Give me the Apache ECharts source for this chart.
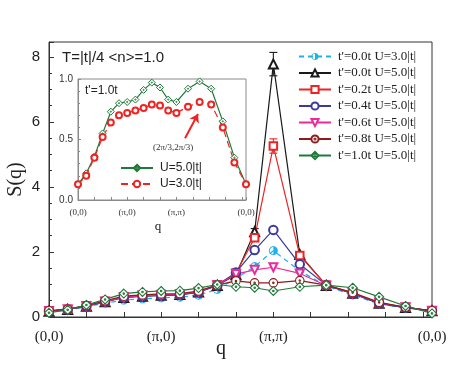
<!DOCTYPE html>
<html>
<head>
<meta charset="utf-8">
<script src="https://cdn.jsdelivr.net/npm/echarts@6/dist/echarts.min.js"></script>
<style>
  html, body { margin: 0; padding: 0; background: #fff; }
  #chart { width: 460px; height: 377px; }
</style>
</head>
<body>
<div id="chart"></div>
<script>
// q path (0,0)->(pi,0)->(pi,pi)->(0,0), 6 steps per leg
const qIndex = [0, 1, 2, 3, 4, 5, 6, 7, 8, 9, 10, 11, 12, 13, 14, 15, 16, 17, 18]
const qTickIndex = [0, 6, 12, 18]
const qTickLabels = ['(0,0)', '(π,0)', '(π,π)', '(0,0)']

// main panel S(q)
const sTp00U3 = [0.16, 0.21, 0.31, 0.43, 0.52, 0.56, 0.59, 0.61, 0.67, 0.85, 1.19, 1.55, 2.04, 1.42, 0.95, 0.68, 0.40, 0.28, 0.18]
const sTp00U5 = [0.18, 0.23, 0.33, 0.47, 0.60, 0.64, 0.67, 0.69, 0.77, 0.97, 1.30, 2.62, 7.78, 1.92, 0.97, 0.73, 0.42, 0.29, 0.19]
const sTp02U5 = [0.19, 0.24, 0.34, 0.48, 0.62, 0.66, 0.69, 0.70, 0.78, 0.99, 1.35, 2.44, 5.26, 1.89, 0.98, 0.74, 0.43, 0.30, 0.19]
const sTp04U5 = [0.18, 0.23, 0.33, 0.47, 0.60, 0.64, 0.66, 0.68, 0.76, 0.97, 1.37, 2.06, 2.68, 1.62, 0.98, 0.72, 0.42, 0.29, 0.19]
const sTp06U5 = [0.18, 0.23, 0.34, 0.48, 0.61, 0.66, 0.68, 0.70, 0.78, 0.98, 1.32, 1.45, 1.53, 1.34, 0.97, 0.74, 0.44, 0.30, 0.19]
const sTp08U5 = [0.19, 0.24, 0.35, 0.50, 0.64, 0.68, 0.71, 0.72, 0.80, 0.98, 1.11, 1.05, 1.05, 1.12, 0.98, 0.75, 0.45, 0.30, 0.19]
const sTp10U5 = [0.13, 0.22, 0.37, 0.54, 0.72, 0.77, 0.80, 0.81, 0.89, 1.00, 0.93, 0.90, 0.80, 0.93, 0.98, 0.90, 0.62, 0.34, 0.11]

// error bars [q index, low, high]
const errTp00U5 = [[11, 2.52, 2.72], [12, 7.42, 8.14]]
const errTp02U5 = [[12, 5.04, 5.48]]

// inset, t'=1.0t
const insetU5 = [0.13, 0.22, 0.36, 0.55, 0.73, 0.80, 0.81, 0.83, 0.91, 0.97, 0.93, 0.83, 0.81, 0.92, 0.98, 0.92, 0.65, 0.35, 0.13]
const insetU3 = [0.13, 0.20, 0.35, 0.52, 0.64, 0.70, 0.72, 0.74, 0.76, 0.79, 0.78, 0.74, 0.72, 0.77, 0.81, 0.79, 0.60, 0.31, 0.13]

// diagonal leg is sqrt(2) longer
const pathPos = (i) => (i <= 12 ? i : 12 + (i - 12) * Math.SQRT2)
const qMax = pathPos(18)
const toXY = (arr) => arr.map((v, i) => [pathPos(qIndex[i]), v])

const qLabel = (v) => {
  for (let j = 0; j < qTickIndex.length; j++) {
    if (Math.abs(pathPos(qTickIndex[j]) - v) < 1e-3) return qTickLabels[j]
  }
  return ''
}

const SERIF = '"Liberation Serif", "DejaVu Serif", serif'
const SANS = '"Liberation Sans", Arial, sans-serif'

const C_CYAN = '#1db2ea'
const C_BLACK = '#1a1a1a'
const C_RED = '#ee2424'
const C_BLUE = '#3a3a9c'
const C_PINK = '#ec2a9a'
const C_DRED = '#8e1c1c'
const C_GREEN = '#1f7a3a'

// half filled circle marker, polygon based so the winding is explicit
function arcPts(r, a0, a1, n) {
  const pts = []
  for (let k = 0; k <= n; k++) {
    const a = a0 + (a1 - a0) * k / n
    pts.push((10 + r * Math.cos(a)).toFixed(2) + ',' + (10 + r * Math.sin(a)).toFixed(2))
  }
  return pts
}
function halfCirclePath() {
  const outer = arcPts(10, 0, 2 * Math.PI, 24)
  const inner = arcPts(8, 2 * Math.PI, 0, 24)
  const half = arcPts(8, -Math.PI / 2, Math.PI / 2, 12)
  return 'path://M' + outer.join(' L') + ' Z M' + inner.join(' L') + ' Z M' + half.join(' L') + ' Z'
}
const SYM_HALF = halfCirclePath()
const SYM_CDOT = 'path://M0,10 A10,10 0 1,1 20,10 A10,10 0 1,1 0,10 Z M10,8.3 A1.7,1.7 0 1,1 10,11.7 A1.7,1.7 0 1,1 10,8.3 Z'
const SYM_DDOT = 'path://M10,0 L20,10 L10,20 L0,10 Z M10,8.3 A1.7,1.7 0 1,1 10,11.7 A1.7,1.7 0 1,1 10,8.3 Z'

function mainLine(name, data, color, symbol, opts) {
  opts = opts || {}
  return {
    name: name,
    type: 'line',
    xAxisIndex: 0,
    yAxisIndex: 0,
    data: toXY(data),
    symbol: symbol,
    symbolSize: opts.size || 8,
    symbolRotate: opts.rotate || 0,
    color: color,
    lineStyle: { color: color, width: 1.2, type: opts.dash || 'solid' },
    itemStyle: opts.fill
      ? { color: opts.fill, borderColor: opts.border || color, borderWidth: opts.bw === undefined ? 1.1 : opts.bw }
      : { color: color, borderColor: color, borderWidth: 1.1 },
    emphasis: { disabled: true },
  }
}

function renderErr(params, api) {
  const x = api.value(0)
  const p1 = api.coord([x, api.value(1)])
  const p2 = api.coord([x, api.value(2)])
  const w = 4
  const style = { stroke: api.visual('color'), lineWidth: 1.1 }
  return {
    type: 'group',
    children: [
      { type: 'line', shape: { x1: p1[0], y1: p1[1], x2: p2[0], y2: p2[1] }, style: style },
      { type: 'line', shape: { x1: p1[0] - w, y1: p1[1], x2: p1[0] + w, y2: p1[1] }, style: style },
      { type: 'line', shape: { x1: p2[0] - w, y1: p2[1], x2: p2[0] + w, y2: p2[1] }, style: style },
    ],
  }
}

function errSeries(data, color) {
  return {
    type: 'custom',
    xAxisIndex: 0,
    yAxisIndex: 0,
    color: color,
    renderItem: renderErr,
    encode: { x: 0, y: [1, 2] },
    data: data.map((d) => [pathPos(d[0]), d[1], d[2]]),
    z: 3,
    silent: true,
  }
}

const names = [
  "t'=0.0t U=3.0|t|",
  "t'=0.0t U=5.0|t|",
  "t'=0.2t U=5.0|t|",
  "t'=0.4t U=5.0|t|",
  "t'=0.6t U=5.0|t|",
  "t'=0.8t U=5.0|t|",
  "t'=1.0t U=5.0|t|",
]

const axisGray = { color: '#333', width: 1 }
const insetGray = { color: '#8a8a8a', width: 1 }

const chart = echarts.init(document.getElementById('chart'), null, { renderer: 'canvas' })

chart.setOption({
  animation: false,
  backgroundColor: '#fff',
  grid: [
    { left: 49, top: 42, width: 383, height: 275, show: true, borderColor: '#333', borderWidth: 1,
      containLabel: false, outerBoundsMode: 'none' },
    { left: 78, top: 79, width: 168, height: 121, show: true, borderColor: '#8a8a8a', borderWidth: 1,
      backgroundColor: '#fff', containLabel: false, outerBoundsMode: 'none' },
  ],
  legend: [
    {
      data: names,
      orient: 'vertical',
      left: 298,
      top: 50,
      padding: 0,
      itemWidth: 32,
      itemHeight: 9,
      itemGap: 3.5,
      selectedMode: false,
      textStyle: { fontFamily: SERIF, fontSize: 13, color: '#222', lineHeight: 13, padding: [0, 0, 0, 2] },
    },
    {
      data: ['U=5.0|t|', 'U=3.0|t|'],
      orient: 'vertical',
      left: 120,
      top: 161,
      padding: 0,
      itemWidth: 32,
      itemHeight: 8,
      itemGap: 2,
      selectedMode: false,
      textStyle: { fontFamily: SANS, fontSize: 12, color: '#222', lineHeight: 14, padding: [0, 0, 0, 2] },
    },
  ],
  xAxis: [
    {
      gridIndex: 0,
      type: 'value',
      min: 0,
      max: qMax,
      interval: 2,
      axisLine: { lineStyle: axisGray },
      axisTick: { inside: true, length: 5, lineStyle: axisGray },
      axisLabel: { formatter: qLabel, fontFamily: SERIF, fontSize: 15, color: '#222', margin: 13,
        showMaxLabel: true, showMinLabel: true, hideOverlap: false },
      splitLine: { show: false },
      name: 'q',
      nameLocation: 'middle',
      nameGap: 22,
      nameMoveOverlap: false,
      nameTextStyle: { fontFamily: SERIF, fontSize: 20, color: '#222', padding: [0, 39, 0, 0] },
    },
    {
      gridIndex: 1,
      type: 'value',
      min: 0,
      max: qMax,
      interval: 2,
      axisLine: { lineStyle: insetGray },
      axisTick: { inside: true, length: 3, lineStyle: insetGray },
      axisLabel: { formatter: qLabel, fontFamily: SERIF, fontSize: 9, color: '#333', margin: 8,
        showMaxLabel: true, showMinLabel: true, hideOverlap: false },
      splitLine: { show: false },
      name: 'q',
      nameLocation: 'middle',
      nameGap: 20,
      nameMoveOverlap: false,
      nameTextStyle: { fontFamily: SERIF, fontSize: 13, color: '#222', padding: [0, 8, 0, 0] },
    },
  ],
  yAxis: [
    {
      gridIndex: 0,
      type: 'value',
      position: 'left',
      min: 0,
      max: 8.46,
      interval: 2,
      axisLine: { lineStyle: axisGray },
      axisTick: { inside: true, length: 5, lineStyle: axisGray },
      axisLabel: {
        formatter: (v) => (v % 2 === 0 && v <= 8 ? String(v) : ''),
        fontFamily: SANS, fontSize: 15, color: '#222', margin: 9, showMaxLabel: true, hideOverlap: false,
      },
      splitLine: { show: false },
      name: 'S(q)',
      nameLocation: 'middle',
      nameGap: 23,
      nameMoveOverlap: false,
      nameTextStyle: { fontFamily: SERIF, fontSize: 20, color: '#222' },
    },
    {
      // minor ticks of the main panel
      gridIndex: 0,
      type: 'value',
      position: 'left',
      min: 0,
      max: 8.46,
      interval: 0.5,
      axisLine: { show: false },
      axisTick: { inside: true, length: 3, lineStyle: axisGray },
      axisLabel: { show: false },
      splitLine: { show: false },
    },
    {
      gridIndex: 1,
      type: 'value',
      position: 'left',
      min: 0,
      max: 1,
      interval: 0.5,
      axisLine: { lineStyle: insetGray },
      axisTick: { inside: true, length: 3, lineStyle: insetGray },
      minorTick: { show: true, splitNumber: 5, length: 2, lineStyle: insetGray },
      axisLabel: { formatter: (v) => v.toFixed(1), fontFamily: SANS, fontSize: 10, color: '#333', margin: 5 },
      splitLine: { show: false },
    },
  ],
  graphic: [
    { type: 'text', left: 62, top: 50, style: { text: 'T=|t|/4 <n>=1.0', font: '15px ' + SANS, fill: '#222' } },
    { type: 'text', left: 85, top: 85, style: { text: "t'=1.0t", font: '12px ' + SANS, fill: '#222' } },
    { type: 'text', left: 153, top: 143, style: { text: '(2π/3,2π/3)', font: '9px ' + SERIF, fill: '#333' } },
  ],
  series: [
    mainLine(names[0], sTp00U3, C_CYAN, SYM_HALF, { dash: [5, 4], fill: C_CYAN, bw: 0, size: 9 }),
    mainLine(names[1], sTp00U5, C_BLACK, 'emptyTriangle', { size: 9 }),
    mainLine(names[2], sTp02U5, C_RED, 'emptyRect', { size: 7.5 }),
    mainLine(names[3], sTp04U5, C_BLUE, 'emptyCircle', { size: 8.5 }),
    mainLine(names[4], sTp06U5, C_PINK, 'emptyTriangle', { size: 8, rotate: 180 }),
    mainLine(names[5], sTp08U5, C_DRED, SYM_CDOT, { fill: '#fff', size: 8.5 }),
    mainLine(names[6], sTp10U5, C_GREEN, SYM_DDOT, { fill: '#fff', size: 9 }),
    errSeries(errTp00U5, C_BLACK),
    errSeries(errTp02U5, C_RED),
    {
      name: 'U=5.0|t|',
      type: 'line',
      xAxisIndex: 1,
      yAxisIndex: 2,
      data: toXY(insetU5),
      symbol: SYM_DDOT,
      symbolSize: 7,
      color: C_GREEN,
      lineStyle: { color: C_GREEN, width: 1.2 },
      itemStyle: { color: '#fff', borderColor: C_GREEN, borderWidth: 1 },
      emphasis: { disabled: true },
    },
    {
      name: 'U=3.0|t|',
      type: 'line',
      xAxisIndex: 1,
      yAxisIndex: 2,
      data: toXY(insetU3),
      symbol: 'emptyCircle',
      symbolSize: 6,
      color: C_RED,
      lineStyle: { color: C_RED, width: 1.2, type: [7, 4] },
      itemStyle: { color: C_RED, borderColor: C_RED, borderWidth: 1 },
      emphasis: { disabled: true },
      markLine: {
        silent: true,
        symbol: ['none', 'arrow'],
        symbolSize: 8,
        label: { show: false },
        lineStyle: { color: C_RED, width: 2, type: 'solid' },
        data: [[
          { coord: [13.05, 0.51] },
          { coord: [pathPos(14) - 0.2, insetU3[14] - 0.1] },
        ]],
      },
    },
  ],
})
</script>
</body>
</html>
